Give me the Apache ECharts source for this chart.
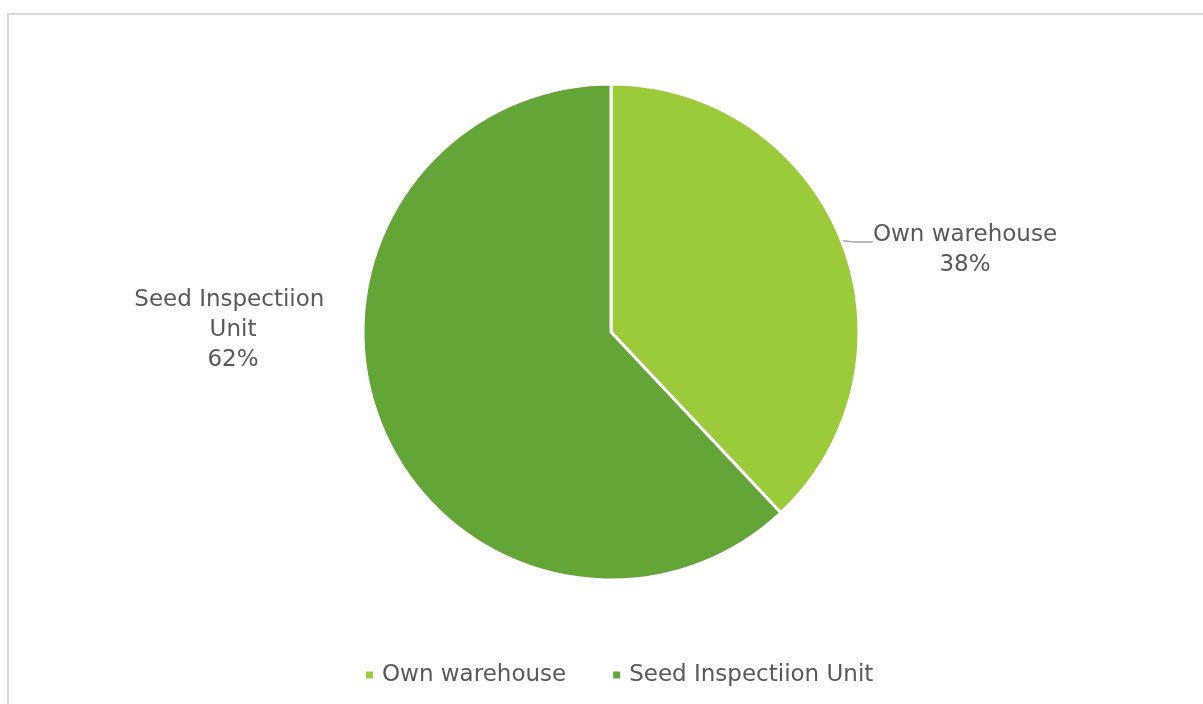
<!DOCTYPE html>
<html>
<head>
<meta charset="utf-8">
<script src="https://cdn.jsdelivr.net/npm/echarts@6/dist/echarts.min.js"></script>
<style>
  html, body { margin: 0; padding: 0; background: #ffffff; }
  #chart { width: 1203px; height: 704px; }
</style>
</head>
<body>
<div id="chart"></div>
<script>
// Where seed is stored, share of respondents (%)
const categories = ['Own warehouse', 'Seed Inspectiion Unit'];
const shares = [38, 62];
const colors = ['#9BCB3B', '#63A537'];

const FONT = 'DejaVu Sans';
const TEXT = '#595959';
const SIZE = 23;

const chart = echarts.init(document.getElementById('chart'), null, { renderer: 'canvas' });

// Label placement (centre of each label block)
const labelSpots = [
  { x: 965, y: 242 },
  { x: 233, y: 330 }
];

const txt = { fontFamily: FONT, fontSize: SIZE, lineHeight: 30, color: TEXT };

chart.setOption({
  animation: false,
  backgroundColor: '#ffffff',
  graphic: [{
    type: 'rect',
    silent: true,
    z: -1,
    shape: { x: 8, y: 14, width: 1300, height: 800 },
    style: { fill: 'none', stroke: '#d9d9d9', lineWidth: 2 }
  }],
  legend: {
    top: 658,
    left: 359,
    icon: 'rect',
    itemWidth: 9,
    itemHeight: 9,
    itemGap: 45,
    textStyle: { fontFamily: FONT, fontSize: SIZE, lineHeight: 24, color: TEXT, padding: [0, 0, 0, 3] },
    data: categories
  },
  series: [{
    type: 'pie',
    center: [611, 332],
    radius: 248,
    startAngle: 90,
    clockwise: true,
    color: colors,
    itemStyle: { borderColor: '#ffffff', borderWidth: 3 },
    label: {
      show: true,
      position: 'outside',
      formatter: '{b}\n{d}%',
      fontFamily: FONT,
      fontSize: SIZE,
      lineHeight: 30,
      color: TEXT
    },
    labelLine: {
      show: true,
      length: 2,
      length2: 18,
      lineStyle: { color: '#a6a6a6', width: 1.5 }
    },
    labelLayout: function (params) {
      const p = labelSpots[params.dataIndex];
      return { x: p.x, y: p.y, align: 'center', verticalAlign: 'middle' };
    },
    emphasis: { disabled: true },
    data: categories.map(function (name, i) {
      const item = { name: name, value: shares[i] };
      if (i === 0) {
        // a thin spacer row above keeps the leader line level with the first text row
        item.label = {
          formatter: '{s| }\n{t|{b}}\n{t|{d}%}',
          rich: {
            s: { fontSize: 1, lineHeight: 16 },
            t: txt
          }
        };
      } else {
        item.label = { width: 210, overflow: 'break' };
        item.labelLine = { show: false };
      }
      return item;
    })
  }]
});
</script>
</body>
</html>
